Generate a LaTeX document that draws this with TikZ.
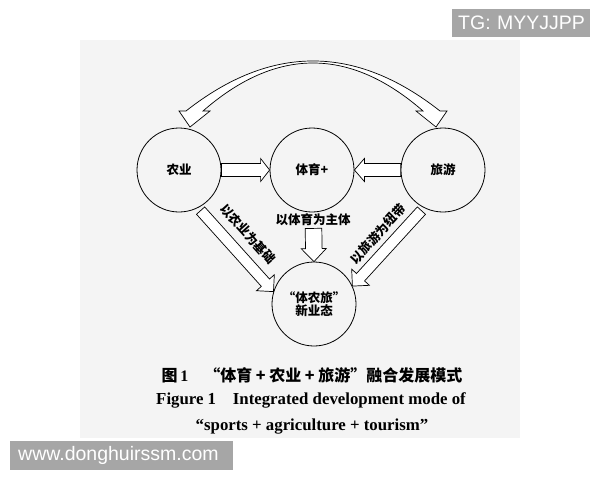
\documentclass[tikz,border=0pt]{standalone}
\usepackage{fontspec}
\setmainfont{Liberation Serif}
\newfontfamily\cjk{Noto Sans CJK SC}
\newfontfamily\wmfont{Liberation Sans}
\usetikzlibrary{calc}
\definecolor{bgpaper}{HTML}{F4F4F4}
\definecolor{wmgray}{HTML}{A6A6A6}
\tikzset{
  circ/.style={circle, draw=black, line width=0.8pt, minimum size=84pt, inner sep=0pt, font=\cjk\bfseries\fontsize{12.5}{14}\selectfont, align=center},
  blk/.style={draw=black, line width=0.7pt, fill=white, line join=miter},
  lbl/.style={inner sep=0pt, font=\cjk\bfseries\fontsize{12.5}{14}\selectfont},
  captext/.style={inner sep=0pt, font=\bfseries\fontsize{16.8}{19}\selectfont},
  capcjk/.style={inner sep=0pt, font=\bfseries\fontsize{16}{19}\selectfont},
  wm/.style={fill=wmgray, text=white, font=\wmfont\fontsize{19.5}{22}\selectfont, inner sep=0pt, anchor=west}
}
\newcommand\blkarrow[5]{%
  \coordinate (hb) at ($(#2)!#5!(#1)$);
  \draw[blk] ($(#1)!#3!90:(#2)$) -- ($(hb)!#3!90:(#2)$) -- ($(hb)!#4!90:(#2)$) -- (#2)
    -- ($(hb)!#4!-90:(#2)$) -- ($(hb)!#3!-90:(#2)$) -- ($(#1)!#3!-90:(#2)$) -- cycle;}
\begin{document}
\begin{tikzpicture}[x=1pt, y=-1pt]
\useasboundingbox (0,0) rectangle (600,480);
\fill[white] (0,0) rectangle (600,480);
\fill[bgpaper] (80,40) rectangle (520,438);

% circles
\node[circ] (ny) at (179,170) {农业};
\node[circ] (ty) at (312,170) {体育+};
\node[circ] (ly) at (443,170) {旅游};
\node[circ] (xt) at (314,304) {“体农旅”\\[-1pt]新业态};

% top crescent double arrow
\coordinate (ctl) at (190,127);
\coordinate (ctr) at (436,127);
\draw[blk] (203,111) -- (210,111) -- (ctl) -- (179,111) -- (186,111)
  .. controls (270.7,44.3) and (355.3,44.3) .. (440,111)
  -- (447,111) -- (ctr) -- (416,111) -- (423,111)
  .. controls (349.7,47) and (276.3,47) .. (203,111) -- cycle;

% straight block arrows
\blkarrow{ny.east}{ty.west}{6.5pt}{11.5pt}{9pt}
\blkarrow{ly.west}{ty.east}{6.5pt}{11.5pt}{10pt}
\coordinate (vs) at ($(ty.south)+(1.5,16)$);
\blkarrow{vs}{xt.north}{8.3pt}{12.5pt}{13pt}
\coordinate (dl) at ($(ny.center)!46pt!(ny.-62)$);
\coordinate (dr) at ($(ly.center)!46pt!(ly.-118)$);
\blkarrow{dl}{xt.163}{5.5pt}{12pt}{12pt}
\blkarrow{dr}{xt.25}{5.5pt}{12pt}{12pt}

% labels
\node[lbl] (l3) at (313,220) {以体育为主体};
\node[lbl, rotate=-48] (l1) at (248,234) {以农业为基础};
\node[lbl, rotate=48] (l2) at (378,234) {以旅游为纽带};

% caption
\node[capcjk] (c1) at (312,375) {{\cjk 图}\,1\hspace{1em}{\cjk “体育 + 农业 + 旅游”融合发展模式}};
\node[captext] (c2) at (311,400) {Figure 1\hspace{1em}Integrated development mode of};
\node[captext] (c3) at (312,427) {“sports + agriculture + tourism”};

% watermarks
\node[wm, minimum width=138pt, minimum height=28pt, text width=130pt] (w1) at (452,23) {\hspace{2pt}TG: MYYJJPP};
\node[wm, minimum width=223pt, minimum height=29pt, text width=215pt] (w2) at (10,455) {\hspace{4pt}www.donghuirssm.com};
\end{tikzpicture}
\end{document}
